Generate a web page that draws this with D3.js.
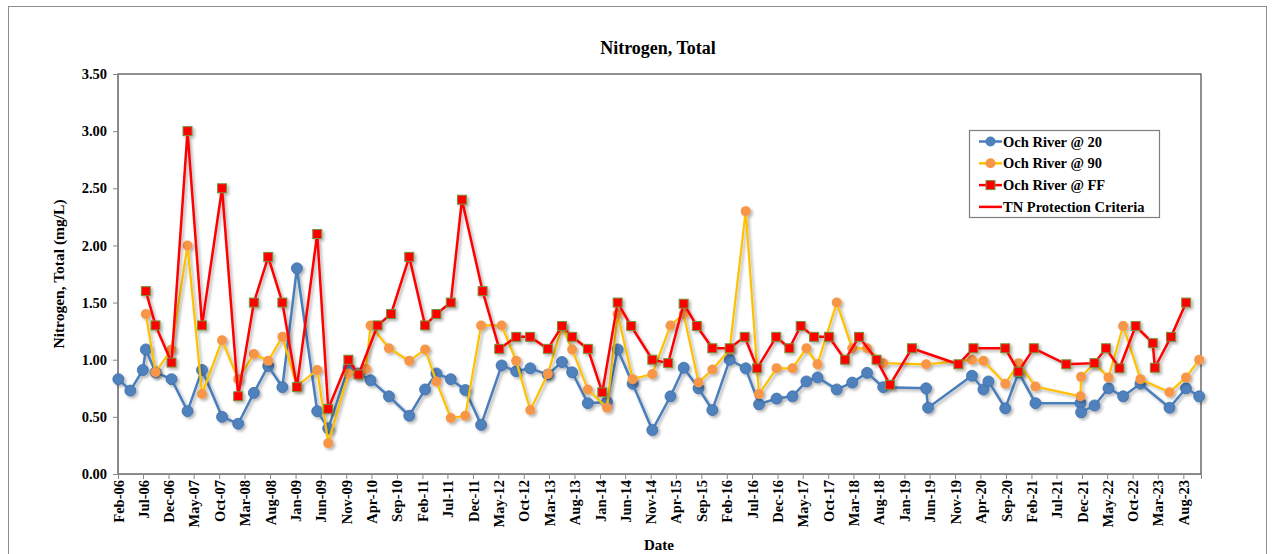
<!DOCTYPE html>
<html>
<head>
<meta charset="utf-8">
<script src="https://cdn.jsdelivr.net/npm/d3@7"></script>
<style>
  body { margin: 0; background: #fff; }
  text { font-family: "Liberation Serif", "Times New Roman", serif; font-weight: bold; fill: #000; }
</style>
</head>
<body>
<div id="chart"></div>
<script>
// Och River @ 20
var dates20 = ["2006-02-03","2006-04-16","2006-06-30","2006-07-18","2006-09-14","2006-12-19","2007-03-25","2007-06-20","2007-10-18","2008-01-23",
  "2008-04-26","2008-07-21","2008-10-14","2009-01-09","2009-05-11","2009-07-16","2009-11-14","2010-01-14","2010-03-27","2010-07-15",
  "2010-11-14","2011-02-17","2011-04-26","2011-07-21","2011-10-16","2012-01-19","2012-05-21","2012-08-16","2012-11-09","2013-02-22",
  "2013-05-18","2013-07-18","2013-10-20","2014-02-12","2014-04-17","2014-07-16","2014-11-11","2015-02-28","2015-05-18","2015-08-15",
  "2015-11-06","2016-02-18","2016-05-24","2016-08-12","2016-11-25","2017-03-01","2017-05-23","2017-07-29","2017-11-21","2018-02-22",
  "2018-05-22","2018-08-27","2019-05-11","2019-05-23","2020-02-10","2020-04-19","2020-05-19","2020-08-28","2020-11-16","2021-02-25",
  "2021-11-22","2021-11-26","2022-02-14","2022-05-09","2022-08-05","2022-11-17","2023-05-10","2023-08-17","2023-11-04"];
var values20 = [0.83,0.73,0.91,1.09,0.89,0.83,0.55,0.91,0.50,0.44,
  0.71,0.945,0.76,1.80,0.55,0.40,0.93,0.88,0.82,0.68,
  0.51,0.74,0.88,0.83,0.735,0.43,0.95,0.90,0.925,0.87,
  0.98,0.89,0.62,0.63,1.09,0.79,0.385,0.68,0.93,0.75,
  0.56,1.0,0.925,0.61,0.66,0.68,0.81,0.845,0.74,0.80,
  0.885,0.76,0.75,0.58,0.86,0.74,0.81,0.575,0.89,0.62,
  0.62,0.54,0.60,0.75,0.68,0.79,0.58,0.75,0.68];

// Och River @ 90
var dates90 = ["2006-07-18","2006-09-14","2006-12-19","2007-03-25","2007-06-20","2007-10-18","2008-01-23","2008-04-26","2008-07-21","2008-10-14",
  "2009-01-09","2009-05-11","2009-07-16","2009-11-14","2010-02-27","2010-03-27","2010-07-15","2010-11-14","2011-02-17","2011-04-26",
  "2011-07-21","2011-10-16","2012-01-19","2012-05-21","2012-08-16","2012-11-09","2013-02-22","2013-05-18","2013-07-18","2013-10-20",
  "2014-02-12","2014-04-17","2014-07-16","2014-11-11","2015-02-28","2015-05-18","2015-08-15","2015-11-06","2016-02-18","2016-05-24",
  "2016-08-12","2016-11-25","2017-03-01","2017-05-23","2017-07-29","2017-11-21","2018-02-22","2018-05-22","2018-08-27","2019-05-11",
  "2020-02-10","2020-04-19","2020-08-28","2020-11-16","2021-02-25","2021-11-22","2021-11-26","2022-02-14","2022-05-09","2022-08-05",
  "2022-11-17","2023-05-10","2023-08-17","2023-11-04"];
var values90 = [1.40,0.89,1.09,2.00,0.70,1.17,0.83,1.05,0.99,1.20,
  0.77,0.91,0.27,0.88,0.92,1.30,1.10,0.99,1.09,0.81,
  0.49,0.51,1.30,1.30,0.99,0.56,0.875,1.29,1.09,0.74,
  0.58,1.40,0.83,0.875,1.30,1.40,0.80,0.915,1.09,2.30,
  0.70,0.925,0.925,1.10,0.96,1.50,1.10,1.10,0.97,0.96,
  1.00,0.99,0.79,0.97,0.765,0.68,0.85,0.97,0.845,1.295,
  0.83,0.715,0.845,1.00];

// Och River @ FF
var datesFF = ["2006-07-18","2006-09-14","2006-12-19","2007-03-25","2007-06-20","2007-10-18","2008-01-23","2008-04-26","2008-07-21","2008-10-14",
  "2009-01-09","2009-05-11","2009-07-16","2009-11-14","2010-01-14","2010-05-08","2010-07-28","2010-11-14","2011-02-17","2011-04-26",
  "2011-07-21","2011-09-26","2012-01-28","2012-05-07","2012-08-17","2012-11-08","2013-02-22","2013-05-18","2013-07-18","2013-10-20",
  "2014-01-15","2014-04-17","2014-07-07","2014-11-11","2015-02-14","2015-05-18","2015-08-05","2015-11-06","2016-02-18","2016-05-18",
  "2016-08-01","2016-11-23","2017-02-10","2017-04-19","2017-07-08","2017-10-05","2018-01-10","2018-04-04","2018-07-18","2018-10-06",
  "2019-02-15","2019-11-21","2020-02-19","2020-08-28","2020-11-15","2021-02-15","2021-08-29","2022-02-14","2022-04-24","2022-07-14",
  "2022-10-19","2023-01-30","2023-02-11","2023-05-19","2023-08-18"];
var valuesFF = [1.60,1.30,0.975,3.00,1.30,2.50,0.68,1.50,1.90,1.50,
  0.76,2.10,0.57,1.00,0.87,1.30,1.40,1.90,1.30,1.40,
  1.50,2.40,1.60,1.095,1.20,1.20,1.095,1.295,1.20,1.095,
  0.715,1.50,1.295,1.00,0.97,1.49,1.295,1.10,1.10,1.20,
  0.925,1.20,1.10,1.295,1.20,1.20,1.00,1.20,1.00,0.78,
  1.10,0.96,1.10,1.10,0.895,1.10,0.96,0.97,1.10,0.925,
  1.295,1.145,0.93,1.20,1.50];

// TN protection criteria
var criteriaValue = 1.03;

var yTicks = [0, 0.5, 1.0, 1.5, 2.0, 2.5, 3.0, 3.5];
var xTickLabels = ["Feb-06","Jul-06","Dec-06","May-07","Oct-07","Mar-08","Aug-08","Jan-09","Jun-09","Nov-09",
  "Apr-10","Sep-10","Feb-11","Jul-11","Dec-11","May-12","Oct-12","Mar-13","Aug-13","Jan-14",
  "Jun-14","Nov-14","Apr-15","Sep-15","Feb-16","Jul-16","Dec-16","May-17","Oct-17","Mar-18",
  "Aug-18","Jan-19","Jun-19","Nov-19","Apr-20","Sep-20","Feb-21","Jul-21","Dec-21","May-22",
  "Oct-22","Mar-23","Aug-23"];

var seriesNames = ["Och River @ 20","Och River @ 90","Och River @ FF","TN Protection Criteria"];

var width = 1275, height = 554;
var margin = {top: 74, right: 74, bottom: 80, left: 118};
var plotRight = 1201;

var parse = d3.timeParse("%Y-%m-%d");
var parseTick = d3.timeParse("%b-%y");

var svg = d3.select("#chart").append("svg")
    .attr("width", width)
    .attr("height", height);

// drop shadow like the office chart
var defs = svg.append("defs");
var f = defs.append("filter").attr("id", "shadow")
    .attr("x", "-20%").attr("y", "-20%").attr("width", "140%").attr("height", "140%");
f.append("feDropShadow").attr("dx", 2).attr("dy", 2)
    .attr("stdDeviation", 1.4).attr("flood-color", "#000").attr("flood-opacity", 0.3);

// outer frame
svg.append("rect")
    .attr("x", 8.5).attr("y", 6.5)
    .attr("width", 1258).attr("height", 580)
    .attr("fill", "none").attr("stroke", "#8c8c8c");

var x = d3.scaleTime()
    .domain([parse("2006-02-01"), parse("2023-11-15")])
    .range([margin.left, plotRight]);

var y = d3.scaleLinear()
    .domain([0, 3.5])
    .range([height - margin.bottom, margin.top]);

// gridlines
svg.append("g")
    .selectAll("line")
    .data(yTicks)
    .enter().append("line")
    .attr("x1", margin.left).attr("x2", plotRight)
    .attr("y1", d => y(d)).attr("y2", d => y(d))
    .attr("stroke", "#a6a6a6")
    .attr("stroke-width", 1.2)
    .attr("filter", "url(#shadow)");

// plot border
svg.append("rect")
    .attr("x", margin.left).attr("y", margin.top)
    .attr("width", plotRight - margin.left).attr("height", y(0) - margin.top)
    .attr("fill", "none").attr("stroke", "#555").attr("stroke-width", 1.3);

// y axis
var yAxis = svg.append("g")
    .attr("transform", "translate(" + margin.left + ",0)")
    .call(d3.axisLeft(y).tickValues(yTicks).tickFormat(d3.format(".2f")).tickSize(5).tickPadding(6));
yAxis.select(".domain").attr("stroke", "#868686");
yAxis.selectAll(".tick line").attr("stroke", "#868686");
yAxis.selectAll("text").style("font-size", "14.5px")
    .style("font-family", "'Liberation Serif', serif").style("font-weight", "bold");

// x axis
var xTickDates = xTickLabels.map(parseTick);
var xAxis = svg.append("g")
    .attr("transform", "translate(0," + y(0) + ")")
    .call(d3.axisBottom(x).tickValues(xTickDates).tickFormat(d3.timeFormat("%b-%y")).tickSize(5).tickPadding(4));
xAxis.select(".domain").attr("stroke", "#868686");
xAxis.selectAll(".tick line").attr("stroke", "#868686");
xAxis.selectAll("text")
    .style("font-size", "14.5px")
    .style("font-family", "'Liberation Serif', serif").style("font-weight", "bold")
    .attr("text-anchor", "end")
    .attr("transform", "rotate(-90)")
    .attr("x", -6).attr("y", 0).attr("dy", "0.35em");

// titles
svg.append("text")
    .attr("x", 658).attr("y", 54)
    .attr("text-anchor", "middle")
    .style("font-size", "18px")
    .text("Nitrogen, Total");

svg.append("text")
    .attr("transform", "translate(64," + y(1.75) + ") rotate(-90)")
    .attr("text-anchor", "middle")
    .style("font-size", "15.5px")
    .text("Nitrogen, Total (mg/L)");

svg.append("text")
    .attr("x", 659).attr("y", 550)
    .attr("text-anchor", "middle")
    .style("font-size", "15px")
    .text("Date");

function makeData(ds, vs) {
  return ds.map((d, i) => ({date: parse(d), value: vs[i]}));
}

var line = d3.line().x(d => x(d.date)).y(d => y(d.value));

var s20 = makeData(dates20, values20);
var s90 = makeData(dates90, values90);
var sFF = makeData(datesFF, valuesFF);

// Och River @ 20
var g20 = svg.append("g").attr("filter", "url(#shadow)");
g20.append("path").datum(s20).attr("d", line)
    .attr("fill", "none").attr("stroke", "#4a7ebb").attr("stroke-width", 2.5);
g20.selectAll("circle").data(s20).enter().append("circle")
    .attr("cx", d => x(d.date)).attr("cy", d => y(d.value)).attr("r", 5.5)
    .attr("fill", "#4f81bd").attr("stroke", "#3d6da8").attr("stroke-width", 0.8);

// Och River @ 90
var g90 = svg.append("g").attr("filter", "url(#shadow)");
g90.append("path").datum(s90).attr("d", line)
    .attr("fill", "none").attr("stroke", "#ffc000").attr("stroke-width", 2.2);
g90.selectAll("circle").data(s90).enter().append("circle")
    .attr("cx", d => x(d.date)).attr("cy", d => y(d.value)).attr("r", 5)
    .attr("fill", "#f79646");

// Och River @ FF
var gFF = svg.append("g").attr("filter", "url(#shadow)");
gFF.append("path").datum(sFF).attr("d", line)
    .attr("fill", "none").attr("stroke", "#ff0000").attr("stroke-width", 2.5);
gFF.selectAll("rect").data(sFF).enter().append("rect")
    .attr("x", d => x(d.date) - 4.5).attr("y", d => y(d.value) - 4.5)
    .attr("width", 9).attr("height", 9)
    .attr("fill", "#ff0000").attr("stroke", "#77933c").attr("stroke-width", 1);

// criteria line
svg.append("line")
    .attr("x1", x.range()[0]).attr("x2", x.range()[1])
    .attr("y1", y(criteriaValue)).attr("y2", y(criteriaValue))
    .attr("stroke", "#ff0000").attr("stroke-width", 2.8)
    .attr("filter", "url(#shadow)");

// legend
var lg = svg.append("g").attr("transform", "translate(969,130)");
lg.append("rect").attr("x", 0.5).attr("y", 0.5).attr("width", 190).attr("height", 87)
    .attr("fill", "#fff").attr("stroke", "#7f7f7f").attr("stroke-width", 1.2);
var items = lg.selectAll("g.item").data(seriesNames).enter().append("g")
    .attr("class", "item")
    .attr("transform", (d, i) => "translate(10," + (11.5 + i * 21.8) + ")");
items.append("line").attr("x1", 0).attr("x2", 23).attr("y1", 0).attr("y2", 0)
    .attr("stroke", (d, i) => ["#4a7ebb", "#ffc000", "#ff0000", "#ff0000"][i])
    .attr("stroke-width", 2.5);
items.filter((d, i) => i < 2).append("circle")
    .attr("cx", 11.5).attr("cy", 0).attr("r", 5)
    .attr("fill", (d, i) => ["#4f81bd", "#f79646"][i]);
items.filter((d, i) => i == 2).append("rect")
    .attr("x", 7).attr("y", -4.5).attr("width", 9).attr("height", 9)
    .attr("fill", "#ff0000").attr("stroke", "#77933c");
items.append("text").attr("x", 24).attr("y", 0).attr("dy", "0.35em")
    .style("font-size", "14.5px")
    .text(d => d);
</script>
</body>
</html>
